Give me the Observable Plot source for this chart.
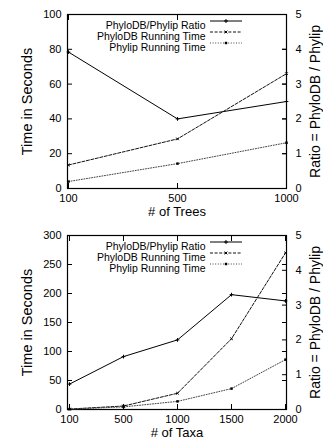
<!DOCTYPE html>
<html><head><meta charset="utf-8">
<script src="https://cdn.jsdelivr.net/npm/d3@7"></script>
<script src="https://cdn.jsdelivr.net/npm/@observablehq/plot@0.6"></script>
<style>body{margin:0;background:#fff} svg{display:block}</style>
</head><body><div id="c"></div>
<script>
const trees = [100, 500, 1000];
const treesRatio = [3.92, 2.0, 2.5];
const treesPhyloDB = [13.5, 28.5, 66];
const treesPhylip = [4, 14.3, 26.3];

const taxa = [100, 500, 1000, 1500, 2000];
const taxaRatio = [0.73, 1.52, 2.0, 3.3, 3.12];
const taxaPhyloDB = [0.8, 6, 28, 122, 270];
const taxaPhylip = [0.5, 4.5, 14, 36, 86];

const treeTimeTicks = [0, 20, 40, 60, 80, 100];
const taxaTimeTicks = [0, 50, 100, 150, 200, 250, 300];
const ratioTicks = [0, 1, 2, 3, 4, 5];
const seriesNames = ["PhyloDB/Phylip Ratio", "PhyloDB Running Time", "Phylip Running Time"];
const leftTitle = "Time in Seconds";
const rightTitle = "Ratio = PhyloDB / Phylip";

const FONT = "'Liberation Sans', Arial, Helvetica, sans-serif";

function chart(xs, ratio, db, ph, timeTicks, xTitle) {
  const yMax = timeTicks[timeTicks.length - 1];
  const k = yMax / 5; // ratio axis spans 0..5 on the same frame
  const rows = xs.map((x, i) => ({x: String(x), ratio: ratio[i] * k, db: db[i], ph: ph[i]}));
  const empty = () => "";
  const svg = Plot.plot({
    width: 323, height: 221,
    marginLeft: 67, marginRight: 37, marginTop: 14, marginBottom: 33,
    style: {fontFamily: FONT, fontSize: "11px", color: "#000", background: "#fff", overflow: "visible"},
    x: {type: "point", domain: xs.map(String), padding: 0, axis: null},
    y: {domain: [0, yMax], axis: null},
    marks: [
      // ticks inward
      Plot.axisX({anchor: "bottom", tickSize: 5, dy: -5, tickFormat: empty, label: null, strokeWidth: 1}),
      Plot.axisX({anchor: "top", tickSize: 5, dy: 5, tickFormat: empty, label: null, strokeWidth: 1}),
      Plot.axisY({anchor: "left", ticks: timeTicks, tickSize: 5, dx: 5, tickFormat: empty, label: null, strokeWidth: 1}),
      Plot.axisY({anchor: "right", ticks: timeTicks, tickSize: 5, dx: -5, tickFormat: empty, label: null, strokeWidth: 1}),
      Plot.axisY({anchor: "right", ticks: ratioTicks.map(r => r * k), tickSize: 5, dx: -5, tickFormat: empty, label: null, strokeWidth: 1}),
      // labels
      Plot.axisX({anchor: "bottom", tickSize: 0, tickPadding: 6, label: null, fontSize: 11}),
      Plot.axisY({anchor: "left", ticks: timeTicks, tickSize: 0, tickPadding: 6, label: null, fontSize: 11}),
      Plot.axisY({anchor: "right", ticks: ratioTicks.map(r => r * k), tickSize: 0, tickPadding: 9,
                  tickFormat: d => String(Math.round(d / k)), label: null, fontSize: 11}),
      Plot.frame({stroke: "#000", strokeWidth: 1.2}),
      // series
      Plot.line(rows, {x: "x", y: "ratio", stroke: "#000", strokeWidth: 1}),
      Plot.line(rows, {x: "x", y: "db", stroke: "#111", strokeWidth: 1, strokeDasharray: "3,1.6"}),
      Plot.line(rows, {x: "x", y: "ph", stroke: "#444", strokeWidth: 1, strokeDasharray: "1,1.6"}),
      Plot.dot(rows, {x: "x", y: "ratio", symbol: "plus", r: 1.3, stroke: "#000", strokeWidth: 1}),
      Plot.dot(rows, {x: "x", y: "db", symbol: "times", r: 1.3, stroke: "#000", strokeWidth: 1}),
      Plot.dot(rows, {x: "x", y: "ph", symbol: "square", r: 1.4, fill: "#000", stroke: "none"}),
      // titles
      Plot.text([xTitle], {frameAnchor: "bottom", dy: 27, fontSize: 13, fill: "#000", textAnchor: "middle"}),
      Plot.text([leftTitle], {frameAnchor: "left", dx: -40, rotate: -90, fontSize: 14.5, fill: "#000", textAnchor: "middle"}),
      Plot.text([rightTitle], {frameAnchor: "right", dx: 29.5, rotate: -90, fontSize: 14, fill: "#000", textAnchor: "middle"}),
      // legend text
      ...seriesNames.map((n, i) => Plot.text([n], {frameAnchor: "top-left", dx: 205 - 67, dy: 7 + 11 * i,
                                                   textAnchor: "end", fontSize: 10.5, fill: "#000"}))
    ]
  });
  // legend samples
  const g = d3.select(svg).append("g");
  const styles = [
    {dash: null, sym: d3.symbolPlus, fill: false, stroke: "#000"},
    {dash: "3,1.6", sym: d3.symbolTimes, fill: false, stroke: "#111"},
    {dash: "1,1.6", sym: d3.symbolSquare, fill: true, stroke: "#444"}
  ];
  styles.forEach((s, i) => {
    const y = 21 + 11 * i;
    g.append("line").attr("x1", 210).attr("x2", 242).attr("y1", y).attr("y2", y)
      .attr("stroke", s.stroke).attr("stroke-width", 1).attr("stroke-dasharray", s.dash);
    g.append("path").attr("d", d3.symbol(s.sym, 6)()).attr("transform", `translate(226,${y})`)
      .attr("fill", s.fill ? "#000" : "none").attr("stroke", s.fill ? "none" : "#000").attr("stroke-width", 1);
  });
  return svg;
}

const c = document.getElementById("c");
c.append(chart(trees, treesRatio, treesPhyloDB, treesPhylip, treeTimeTicks, "# of Trees"));
c.append(chart(taxa, taxaRatio, taxaPhyloDB, taxaPhylip, taxaTimeTicks, "# of Taxa"));
</script>
</body></html>
